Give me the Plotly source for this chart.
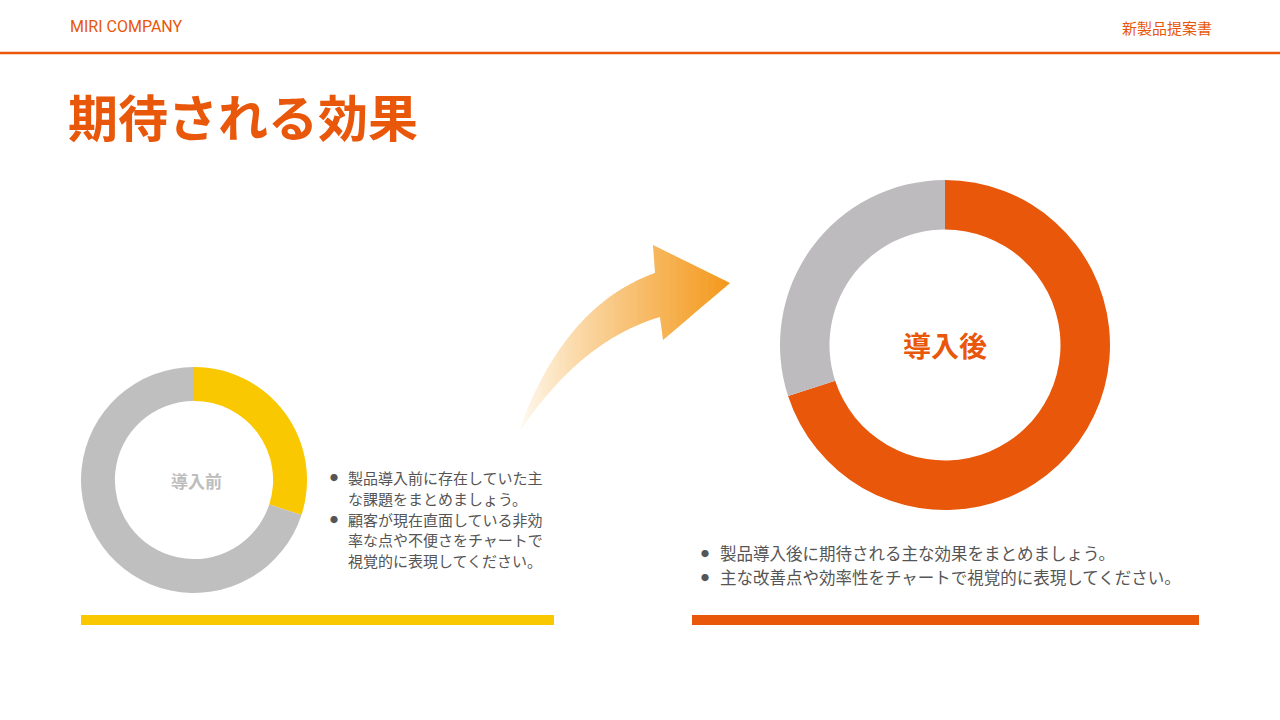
import plotly.graph_objects as go

W, H = 1280, 720

# ---- data ----
before_labels = ["課題", "その他"]
before_values = [30, 70]
after_labels = ["効果", "その他"]
after_values = [70, 30]

header_left = "MIRI COMPANY"
header_right = "新製品提案書"
title_text = "期待される効果"
before_center = "導入前"
after_center = "導入後"

before_bullets = [
    ["製品導入前に存在していた主", "な課題をまとめましょう。"],
    ["顧客が現在直面している非効", "率な点や不便さをチャートで", "視覚的に表現してください。"],
]
after_bullets = [
    ["製品導入後に期待される主な効果をまとめましょう。"],
    ["主な改善点や効率性をチャートで視覚的に表現してください。"],
]

ORANGE = "#E8570A"
YELLOW = "#F9C800"
GRAY_L = "#BFBFBF"
GRAY_R = "#BDBBBE"
TEXT = "#555555"
JP = "Noto Sans CJK JP"


def px(x):
    return x / W


def py(y):
    return 1 - y / H


fig = go.Figure()

fig.add_trace(go.Pie(
    labels=before_labels, values=before_values, hole=0.7, sort=False,
    direction="clockwise", rotation=0, textinfo="none", hoverinfo="label+value",
    marker=dict(colors=[YELLOW, GRAY_L], line=dict(width=0)),
    domain=dict(x=[px(81), px(307)], y=[py(593), py(367)]), showlegend=False,
))
fig.add_trace(go.Pie(
    labels=after_labels, values=after_values, hole=0.7, sort=False,
    direction="clockwise", rotation=0, textinfo="none", hoverinfo="label+value",
    marker=dict(colors=[ORANGE, GRAY_R], line=dict(width=0)),
    domain=dict(x=[px(780), px(1110)], y=[py(510), py(180)]), showlegend=False,
))

shapes = []
# header rule
shapes.append(dict(type="line", xref="paper", yref="paper", x0=0, x1=1,
                   y0=py(53), y1=py(53), line=dict(color=ORANGE, width=2.5)))
# bottom bars
shapes.append(dict(type="rect", xref="paper", yref="paper", x0=px(81), x1=px(554),
                   y0=py(625), y1=py(615), fillcolor=YELLOW, line=dict(width=0)))
shapes.append(dict(type="rect", xref="paper", yref="paper", x0=px(692), x1=px(1199),
                   y0=py(625), y1=py(615), fillcolor=ORANGE, line=dict(width=0)))


# ---- gradient arrow (decoration) ----
def bez(p0, c, p2, n=30):
    pts = []
    for i in range(n + 1):
        t = i / n
        x = (1 - t) ** 2 * p0[0] + 2 * t * (1 - t) * c[0] + t * t * p2[0]
        y = (1 - t) ** 2 * p0[1] + 2 * t * (1 - t) * c[1] + t * t * p2[1]
        pts.append((x, y))
    return pts


upper = bez((520, 428), (565, 305), (655, 273))
lower = bez((522, 428), (582, 340), (660, 317))
poly = upper + [(653, 245), (730, 283), (663, 340)] + list(reversed(lower))


def clip(poly, xa, xb):
    def clip_edge(pts, inside, inter):
        out = []
        n = len(pts)
        for i in range(n):
            cur, prev = pts[i], pts[i - 1]
            if inside(cur):
                if not inside(prev):
                    out.append(inter(prev, cur))
                out.append(cur)
            elif inside(prev):
                out.append(inter(prev, cur))
        return out

    def ix(xv):
        def f(a, b):
            t = (xv - a[0]) / (b[0] - a[0])
            return (xv, a[1] + t * (b[1] - a[1]))
        return f

    p = clip_edge(poly, lambda q: q[0] >= xa, ix(xa))
    if not p:
        return p
    p = clip_edge(p, lambda q: q[0] <= xb, ix(xb))
    return p


c0 = (255, 254, 250)
c1 = (243, 152, 26)
xs0, xs1 = 518, 731
nstrip = 60
for i in range(nstrip):
    xa = xs0 + (xs1 - xs0) * i / nstrip
    xb = xs0 + (xs1 - xs0) * (i + 1) / nstrip + 0.6
    seg = clip(poly, xa, xb)
    if len(seg) < 3:
        continue
    t = (i + 0.5) / nstrip
    tt = t ** 0.8
    col = tuple(int(round(c0[k] + (c1[k] - c0[k]) * tt)) for k in range(3))
    path = "M " + " L ".join(f"{px(x):.5f},{py(y):.5f}" for x, y in seg) + " Z"
    shapes.append(dict(type="path", xref="paper", yref="paper", path=path,
                       fillcolor=f"rgb{col}", line=dict(width=0), layer="below"))

ann = []
ann.append(dict(text=header_left, x=px(68), y=py(27), xanchor="left", yanchor="middle",
                font=dict(family="Roboto", size=16, color=ORANGE)))
ann.append(dict(text=header_right, x=px(1214), y=py(28), xanchor="right", yanchor="middle",
                font=dict(family=JP, size=15, color=ORANGE)))
ann.append(dict(text=f"<b>{title_text}</b>", x=px(66), y=py(115), xanchor="left", yanchor="middle",
                font=dict(family=JP, size=50, color=ORANGE)))
ann.append(dict(text=f"<b>{before_center}</b>", x=px(196), y=py(481), xanchor="center", yanchor="middle",
                font=dict(family=JP, size=17, color="#BDBDBD")))
ann.append(dict(text=f"<b>{after_center}</b>", x=px(945), y=py(345), xanchor="center", yanchor="middle",
                font=dict(family=JP, size=28, color=ORANGE)))

# left bullets
y = 477.5
for bl in before_bullets:
    ann.append(dict(text="●", x=px(334), y=py(y), xanchor="center", yanchor="middle",
                    font=dict(family=JP, size=8, color=TEXT)))
    for line in bl:
        ann.append(dict(text=line, x=px(346), y=py(y), xanchor="left", yanchor="middle",
                        font=dict(family=JP, size=15, color=TEXT)))
        y += 20.8
# right bullets
y = 553
for bl in after_bullets:
    ann.append(dict(text="●", x=px(705), y=py(y), xanchor="center", yanchor="middle",
                    font=dict(family=JP, size=8, color=TEXT)))
    for line in bl:
        ann.append(dict(text=line, x=px(718), y=py(y), xanchor="left", yanchor="middle",
                        font=dict(family=JP, size=16.5, color=TEXT)))
        y += 24

for a in ann:
    a.update(xref="paper", yref="paper", showarrow=False)

fig.update_layout(
    width=W, height=H, margin=dict(l=0, r=0, t=0, b=0),
    paper_bgcolor="white", plot_bgcolor="white",
    shapes=shapes, annotations=ann, showlegend=False,
)

fig.write_html("out.html", config={"displayModeBar": False},
               post_script="document.body.style.margin='0';")
